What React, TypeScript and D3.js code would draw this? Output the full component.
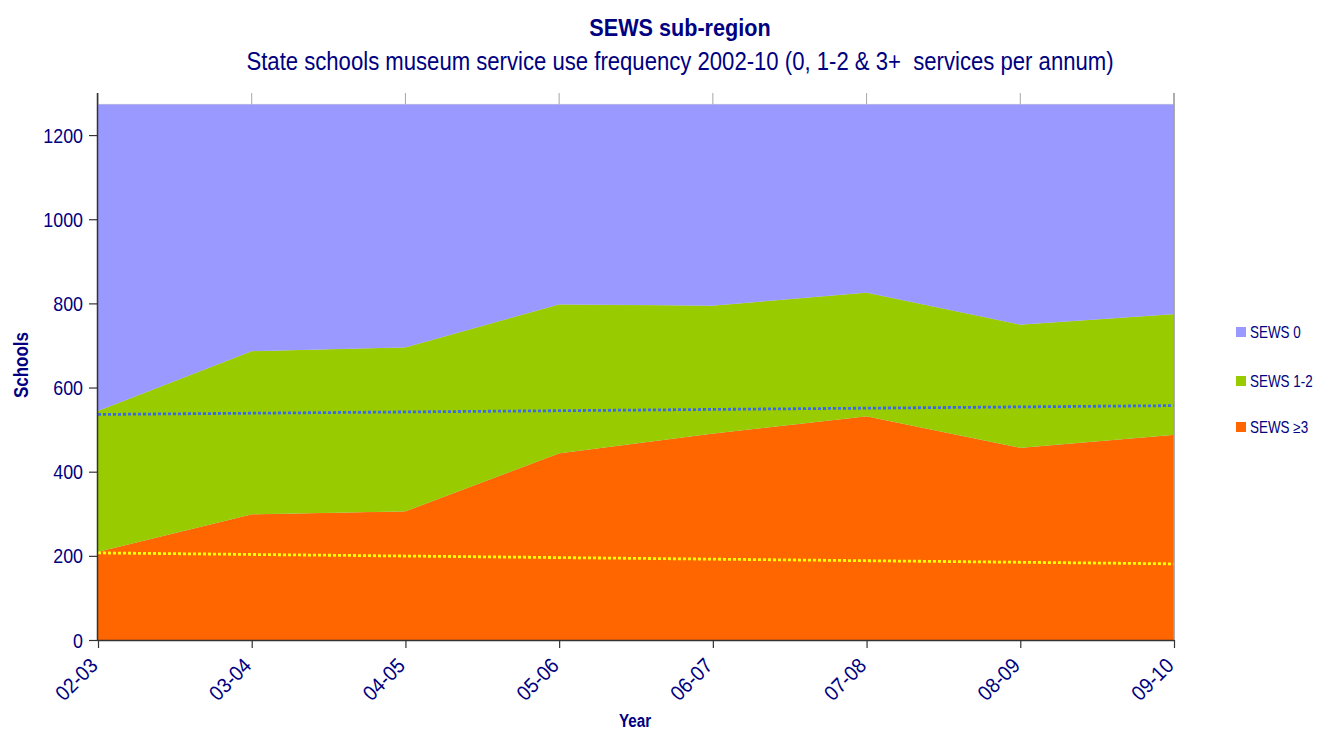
import React, { useEffect, useRef } from 'react';
import * as d3 from 'd3';

// school years on the category axis
const years = ['02-03', '03-04', '04-05', '05-06', '06-07', '07-08', '08-09', '09-10'];

// number of schools per year (bottom to top)
const sews3plus = [210, 299, 306, 444, 491, 532, 457, 488];
const sews12 = [335, 388, 390, 354, 304, 294, 293, 287];
const sews0 = [728, 586, 577, 475, 478, 447, 523, 498];

// linear trend lines: value at first and last year
const trendBlue = [536, 557];
const trendYellow = [207, 181];

const yTicks = [0, 200, 400, 600, 800, 1000, 1200];

const seriesNames = ['SEWS ≥3', 'SEWS 1-2', 'SEWS 0'];
const seriesColors = ['#FF6600', '#99CC00', '#9999FF'];

const FONT = '"Liberation Sans", Arial, sans-serif';
const NAVY = '#000080';

const App: React.FC = () => {
  const ref = useRef<SVGSVGElement>(null);

  useEffect(() => {
    if (!ref.current) return;
    const svg = d3.select(ref.current);
    svg.selectAll('*').remove();

    const left = 98;
    const right = 1174;
    const top = 93;
    const bottom = 640;

    const x = d3.scalePoint<string>().domain(years).range([left, right]);
    const y = d3.scaleLinear().domain([0, 1300]).range([bottom, top]);

    // helper for text that is drawn a bit narrow, like the original
    const label = (
      g: d3.Selection<SVGGElement, unknown, null, undefined>,
      tx: number,
      ty: number,
      text: string,
      size: number,
      sx: number,
      opts: { anchor?: string; weight?: string; rotate?: number } = {}
    ) =>
      g
        .append('text')
        .attr('transform', `translate(${tx},${ty}) rotate(${opts.rotate || 0}) scale(${sx},1)`)
        .attr('text-anchor', opts.anchor || 'start')
        .attr('font-family', FONT)
        .attr('font-size', size)
        .attr('font-weight', opts.weight || 'normal')
        .attr('fill', NAVY)
        .text(text);

    const root = svg.append('g');

    // vertical category gridlines (only visible above the areas)
    root
      .selectAll('.grid')
      .data(years)
      .enter()
      .append('line')
      .attr('x1', (d) => x(d)!)
      .attr('x2', (d) => x(d)!)
      .attr('y1', top)
      .attr('y2', bottom)
      .attr('stroke', '#A6A6A6')
      .attr('stroke-width', 1);

    // stacked areas
    const table = years.map((yr, i) => ({
      year: yr,
      s3: sews3plus[i],
      s12: sews12[i],
      s0: sews0[i],
    }));
    const stack = d3.stack<any>().keys(['s3', 's12', 's0'])(table);
    const area = d3
      .area<any>()
      .x((d) => x(d.data.year)!)
      .y0((d) => y(d[0]))
      .y1((d) => y(d[1]));

    root
      .selectAll('.area')
      .data(stack)
      .enter()
      .append('path')
      .attr('d', (d) => area(d as any)!)
      .attr('fill', (_, i) => seriesColors[i])
      .attr('stroke', (_, i) => (i === 0 ? 'none' : '#C8C8C8'))
      .attr('stroke-width', 0.6);

    // re-fill to hide strokes at the bottom edges
    root
      .selectAll('.areaFill')
      .data(stack)
      .enter()
      .append('path')
      .attr('d', (d) =>
        d3
          .area<any>()
          .x((p) => x(p.data.year)!)
          .y0((p) => y(p[0]))
          .y1((p) => y(p[1]) + 0.5)(d as any)!
      )
      .attr('fill', (_, i) => seriesColors[i]);

    // trend lines
    const trend = (vals: number[], color: string) =>
      root
        .append('line')
        .attr('x1', x(years[0])!)
        .attr('x2', x(years[years.length - 1])!)
        .attr('y1', y(vals[0]))
        .attr('y2', y(vals[1]))
        .attr('stroke', color)
        .attr('stroke-width', 2.8)
        .attr('stroke-dasharray', '3,2');
    trend(trendBlue, '#3D6BE8');
    trend(trendYellow, '#FFFF00');

    // right border of plot area
    root
      .append('line')
      .attr('x1', right)
      .attr('x2', right)
      .attr('y1', top)
      .attr('y2', bottom)
      .attr('stroke', '#A0A0A0')
      .attr('stroke-width', 1.5);

    // y axis
    root
      .append('g')
      .attr('transform', `translate(${left},0)`)
      .call(d3.axisLeft(y).tickValues(yTicks).tickSize(9).tickFormat(() => ''))
      .call((g) => g.select('.domain').attr('d', `M-0.5,${top}V${bottom}`).attr('stroke', '#333').attr('stroke-width', 1.5))
      .call((g) => g.selectAll('.tick line').attr('stroke', '#333').attr('stroke-width', 1.2));
    yTicks.forEach((t) => {
      label(root, 83, y(t) + 7.5, String(t), 21, 0.85, { anchor: 'end' });
    });

    // x axis
    root
      .append('g')
      .attr('transform', `translate(0,${bottom})`)
      .call(d3.axisBottom(x).tickSize(8).tickFormat(() => ''))
      .call((g) => g.select('.domain').attr('d', `M${left},0.5H${right}`).attr('stroke', '#333').attr('stroke-width', 1.5))
      .call((g) => g.selectAll('.tick line').attr('stroke', '#333').attr('stroke-width', 1.2));
    years.forEach((yr) => {
      label(root, x(yr)! + 1, bottom + 27, yr, 21, 0.92, { anchor: 'end', rotate: -45 });
    });

    // titles
    label(root, 680, 36, 'SEWS sub-region', 23, 0.94, { anchor: 'middle', weight: 'bold' });
    label(
      root,
      680,
      70,
      'State schools museum service use frequency 2002-10 (0, 1-2 & 3+  services per annum)',
      25,
      0.885,
      { anchor: 'middle' }
    ).style('white-space', 'pre');

    // axis titles
    label(root, 28, 365, 'Schools', 20, 0.85, { anchor: 'middle', weight: 'bold', rotate: -90 });
    label(root, 635, 727, 'Year', 19, 0.8, { anchor: 'middle', weight: 'bold' });

    // legend (top entry is the top series)
    const legendY = [332, 381, 427];
    const legendOrder = [2, 1, 0];
    legendOrder.forEach((si, k) => {
      root
        .append('rect')
        .attr('x', 1236)
        .attr('y', legendY[k] - 5)
        .attr('width', 10)
        .attr('height', 10)
        .attr('fill', seriesColors[si]);
      label(root, 1250, legendY[k] + 6, seriesNames[si], 16, 0.84);
    });
  }, []);

  return (
    <svg
      ref={ref}
      width={1331}
      height={731}
      style={{ position: 'absolute', left: 0, top: 0, background: '#fff' }}
    />
  );
};

export default App;
